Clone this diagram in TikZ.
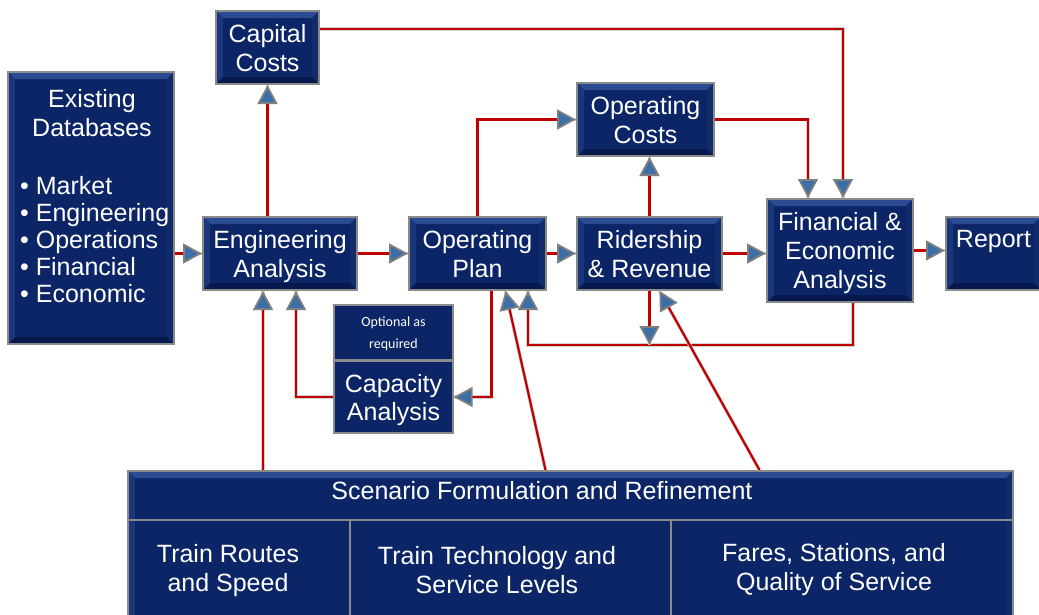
\documentclass[tikz,border=0pt]{standalone}
\usepackage{fontspec}
\setmainfont{Liberation Sans}
\newfontfamily\notefont{Carlito}
\usetikzlibrary{arrows.meta,calc}

\definecolor{boxblue}{HTML}{0B2566}
\definecolor{bevtop}{HTML}{2B4B93}
\definecolor{bevside}{HTML}{1A377C}
\definecolor{bevdark}{HTML}{06184C}
\definecolor{edgegray}{HTML}{8A8A8A}
\definecolor{linkred}{HTML}{C00000}
\definecolor{tipblue}{HTML}{3C6FA8}
\definecolor{tipgray}{HTML}{7F7F7F}

\begin{document}
\begin{tikzpicture}[x=1pt,y=-1pt,
  bevel/.style={path picture={
    \path (path picture bounding box.north west) coordinate (p1) (path picture bounding box.south east) coordinate (p2);
    \fill[bevtop] (p1) -- (p1 -| p2) -- ++(-7pt,-7pt) -- ($(p1)+(7pt,-7pt)$) -- cycle;
    \fill[bevdark] (p2) -- (p2 -| p1) -- ++(7pt,7pt) -- ($(p2)+(-7pt,7pt)$) -- cycle;
    \fill[bevside] (p1) -- (p1 |- p2) -- ++(7pt,7pt) -- ($(p1)+(7pt,-7pt)$) -- cycle;
    \fill[bevside!60!bevdark] (p2) -- (p2 |- p1) -- ++(-7pt,-7pt) -- ($(p2)+(-7pt,7pt)$) -- cycle;}},
  box/.style={rectangle,draw=edgegray,line width=2pt,fill=boxblue,bevel,text=white,align=center,inner sep=0pt,text depth=0pt,font=\fontsize{25}{29}\selectfont},
  flat/.style={rectangle,draw=edgegray,line width=1.2pt,fill=boxblue,text=white,align=center,inner sep=0pt,text depth=0pt},
  txt/.style={text=white,align=center,inner sep=0pt,font=\fontsize{25}{29}\selectfont},
  flow/.style={draw=linkred,line width=2.2pt,preaction={draw=gray!35,line width=3.6pt,arrows=-},
    -{Triangle[length=19pt,width=20pt,fill=tipblue,color=tipgray,line width=1.8pt]}},
  rule/.style={draw=edgegray,line width=1.2pt}]
\path[use as bounding box,fill=white] (0,0) rectangle (1039,614);

% boxes
\node[box,minimum width=166pt,minimum height=272pt] (db) at (91,208) {};
\node[txt,anchor=north] (dbhead) at (92,89) {Existing\\Databases};
\foreach \item [count=\i] in {Market,Engineering,Operations,Financial,Economic}
  \node[txt,anchor=base west] (db\i) at (20,167+27*\i) {\textbullet\ \item};
\node[box,minimum width=103pt,minimum height=73pt] (cc) at (267.5,47.5) {Capital\\Costs};
\node[box,minimum width=154pt,minimum height=73pt] (ea) at (280,253.5) {Engineering\\Analysis};
\node[box,minimum width=137pt,minimum height=73pt] (op) at (477.5,253.5) {Operating\\Plan};
\node[box,minimum width=137pt,minimum height=73pt] (oc) at (645.5,119.5) {Operating\\Costs};
\node[box,minimum width=145pt,minimum height=73pt] (rr) at (649.5,253.5) {Ridership\\\& Revenue};
\node[box,minimum width=146pt,minimum height=103pt] (fin) at (840,250.5) {Financial \&\\Economic\\Analysis};
\node[box,minimum width=95pt,minimum height=73pt] (rep) at (993.5,253.5) {Report\\~};
\node[flat,minimum width=119pt,minimum height=55pt,font=\notefont\fontsize{14}{22}\selectfont] (opt) at (393.5,332.5) {Optional as\\required};
\node[flat,minimum width=119pt,minimum height=72pt,font=\fontsize{25}{28}\selectfont] (cap) at (393.5,397) {Capacity\\Analysis};

% scenario table
\node[box,anchor=north west,minimum width=885pt,minimum height=160pt] (scen) at (127,470) {};
\draw[rule] ([yshift=-50pt]scen.north west) -- ([yshift=-50pt]scen.north east);
\draw[rule] ([xshift=223pt,yshift=-50pt]scen.north west) -- ([xshift=223pt]scen.south west);
\draw[rule] ([xshift=544pt,yshift=-50pt]scen.north west) -- ([xshift=544pt]scen.south west);
\node[txt] (schead) at (542,491) {Scenario Formulation and Refinement};
\node[txt] (sc1) at (228,571) {Train Routes\\and Speed};
\node[txt] (sc2) at (497,570) {Train Technology and\\Service Levels};
\node[txt] (sc3) at (834,570) {Fares, Stations, and\\Quality of Service};

% connectors
\coordinate (fb) at (528,345);
\draw[flow] (db.east |- ea.west) -- (ea.west);
\draw[flow] (ea.east) -- (op.west);
\draw[flow] (op.east) -- (rr.west);
\draw[flow] (rr.east) -- (fin.west |- rr.east);
\draw[flow] (fin.east) -- (fin.east -| rep.west);
\draw[flow] (cc.south |- ea.north) -- (cc.south);
\draw[flow] ($(cc.north east)!0.25!(cc.south east)$) -| ($(fin.north)+(3pt,0)$);
\draw[flow] (op.north) |- (oc.west);
\draw[flow] (rr.north) -- (rr.north |- oc.south);
\draw[flow] (oc.east) -| ($(fin.north)+(-32pt,0)$);
\draw[flow] ($(fin.south)+(13pt,0)$) |- (fb) -- (fb |- op.south);
\draw[flow] (rr.south) -- (rr.south |- fb);
\draw[flow] ($(op.south)+(14pt,0)$) |- (cap.east);
\draw[flow] (cap.west) -| ($(ea.south)+(16pt,0)$);
\draw[flow] ($(ea.south |- scen.north)+(-17pt,0)$) -- ($(ea.south)+(-17pt,0)$);
\draw[flow] ($(scen.north)+(-25pt,0)$) -- ($(op.south)+(28pt,0)$);
\draw[flow] ($(scen.north)+(189pt,0)$) -- ($(rr.south)+(10pt,0)$);
\end{tikzpicture}
\end{document}
